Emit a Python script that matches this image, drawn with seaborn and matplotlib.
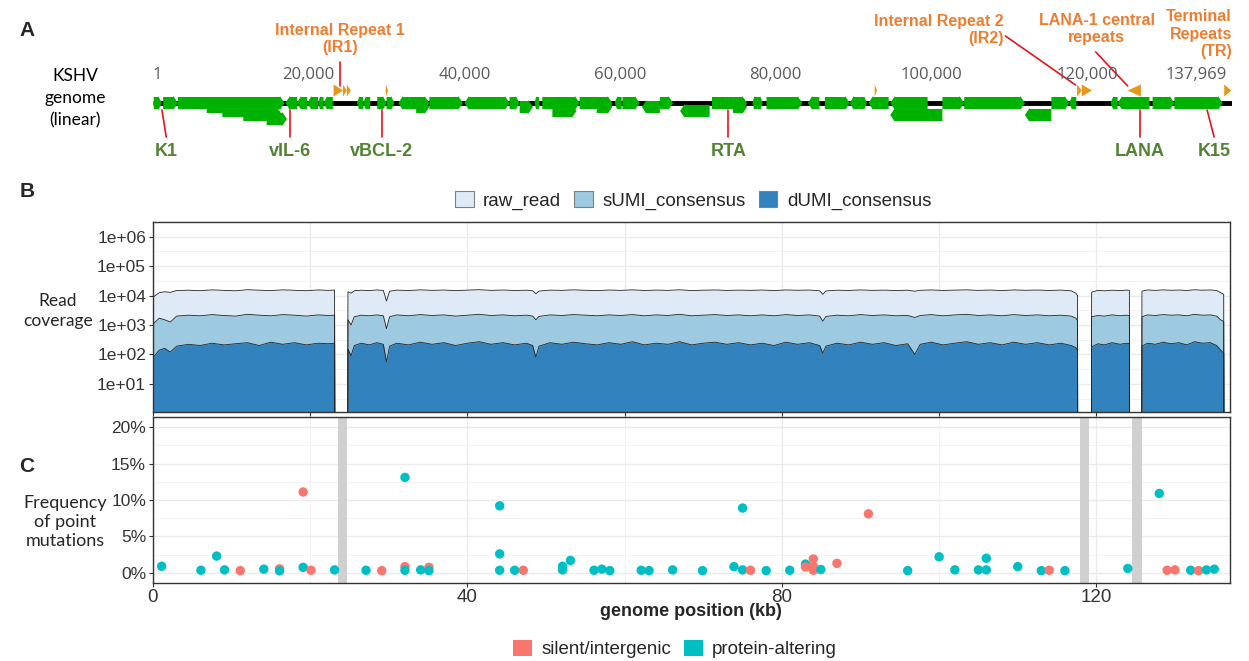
import numpy as np
import pandas as pd
import seaborn as sns
import matplotlib.pyplot as plt
from matplotlib import font_manager
from matplotlib.patches import Patch

# ---- data -------------------------------------------------------------
GENOME_LEN = 137.969  # kb

# coverage (reads) along the genome, kb positions; 1 = no coverage
cov_pos = [0.05, 0.8, 1.5, 2.2, 3.0, 4.5, 6.0, 7.5, 9.0, 10.5, 12.0, 13.5, 15.0, 16.5, 18.0, 19.5, 21.0, 22.3, 23.1, 23.12,
           24.78, 24.8, 25.2, 25.6, 26.5, 27.5, 28.5, 29.3, 29.7, 30.1, 31.0, 32.5, 34.0, 35.5, 37.0, 38.5, 40.0, 41.5,
           43.0, 44.5, 46.0, 47.5, 48.3, 48.7, 49.1, 50.5, 52.0, 53.5, 55.0, 56.5, 58.0, 59.5, 61.0, 62.5, 64.0, 65.5,
           67.0, 68.5, 70.0, 71.5, 73.0, 74.5, 76.0, 77.5, 79.0, 80.5, 82.0, 83.5, 84.8, 85.2, 85.6, 87.0, 88.5, 90.0,
           91.5, 93.0, 94.5, 96.0, 96.9, 97.6, 99.0, 100.5, 102.0, 103.5, 105.0, 106.5, 108.0, 109.5, 111.0, 112.5,
           114.0, 115.5, 116.8, 117.4, 117.6, 117.62,
           119.38, 119.4, 120.2, 121.0, 122.0, 123.0, 123.8, 124.2, 124.22,
           125.78, 125.8, 126.5, 127.5, 128.5, 129.5, 130.5, 131.5, 132.5, 133.5, 134.5, 135.3, 135.8, 136.2, 136.22]
cov_raw = [9000, 12500, 13500, 12800, 14800, 15200, 14600, 15600, 15000, 14500, 15800, 15200, 14800, 15600, 15100, 14600, 15500, 15000, 15300, 1,
           1, 13500, 12000, 14500, 15200, 14800, 15500, 14900, 6500, 14000, 15300, 14800, 15600, 15000, 15400, 14700, 15300, 15800,
           15000, 15400, 14900, 15200, 14600, 11500, 14200, 15300, 15000, 15600, 15100, 14700, 15400, 15000, 15600, 14900, 15300, 15000,
           15700, 14800, 15200, 15500, 14900, 15300, 15000, 15400, 14800, 15500, 15100, 15400, 14500, 11000, 14300, 15200, 14900, 15500,
           15000, 15300, 14800, 15200, 14000, 15100, 15500, 14900, 15300, 15600, 15000, 15400, 14800, 15500, 15100, 15400,
           14900, 15300, 14500, 12000, 10000, 1,
           1, 13000, 15000, 14500, 15200, 14700, 15300, 15000, 1,
           1, 14000, 15500, 15000, 15600, 15100, 15400, 14900, 15700, 15200, 15500, 14800, 12500, 11000, 1]
cov_sumi = [1100, 1700, 1500, 1250, 2000, 2150, 2050, 2250, 2100, 2000, 2300, 2150, 2050, 2250, 2150, 2000, 2200, 2100, 2150, 1,
            1, 1500, 1000, 1900, 2150, 2050, 2200, 2050, 750, 1900, 2200, 2050, 2250, 2100, 2200, 2000, 2150, 2300,
            2100, 2200, 2050, 2150, 2000, 1500, 1950, 2200, 2100, 2250, 2150, 2050, 2200, 2100, 2250, 2050, 2200, 2100,
            2300, 2050, 2150, 2250, 2100, 2200, 2050, 2200, 2050, 2250, 2100, 2200, 2000, 1350, 1950, 2150, 2050, 2250,
            2100, 2200, 2050, 2100, 1800, 2100, 2250, 2050, 2200, 2300, 2100, 2200, 2050, 2250, 2100, 2200,
            2050, 2150, 2000, 1700, 1400, 1,
            1, 1900, 2100, 2000, 2200, 2050, 2150, 2100, 1,
            1, 1900, 2200, 2100, 2250, 2150, 2200, 2050, 2300, 2150, 2200, 2000, 1500, 1300, 1]
cov_dumi = [80, 140, 160, 120, 190, 220, 200, 240, 210, 230, 250, 200, 260, 220, 250, 210, 240, 230, 240, 1,
            1, 150, 90, 200, 240, 210, 250, 220, 55, 190, 240, 210, 260, 220, 250, 200, 240, 270,
            220, 250, 210, 240, 200, 80, 190, 250, 220, 260, 230, 210, 250, 220, 270, 210, 240, 220,
            270, 210, 240, 260, 220, 250, 210, 240, 200, 260, 220, 250, 200, 110, 190, 240, 210, 260,
            220, 250, 200, 230, 100, 220, 260, 210, 240, 270, 220, 250, 210, 260, 220, 250,
            210, 240, 200, 170, 140, 1,
            1, 180, 230, 210, 250, 220, 240, 230, 1,
            1, 190, 240, 220, 260, 230, 250, 210, 270, 240, 250, 200, 140, 110, 1]
cov_names = ["raw_read", "sUMI_consensus", "dUMI_consensus"]
cov_colors = ["#DEEBF7", "#9ECAE1", "#3182BD"]

# regions without coverage (kb)
gap_start = [23.5, 117.9, 124.5]
gap_end = [24.65, 119.1, 125.8]

# point mutations: position (kb), frequency (%), class
mut_pos = [1.1, 6.1, 8.1, 9.1, 11.1, 14.1, 16.1, 16.1, 19.1, 19.1, 20.1, 23.1, 27.1, 29.1, 32.05, 32.05, 32.05,
           34.05, 35.1, 35.1, 44.1, 44.1, 44.1, 46.0, 47.1, 52.1, 52.1, 53.1, 56.1, 57.1, 58.1, 62.1, 63.1, 66.1,
           69.9, 73.9, 75.0, 75.0, 76.0, 78.0, 81.0, 83.0, 83.0, 84.0, 84.0, 84.0, 84.95, 87.0, 91.0, 96.0, 100.0,
           102.0, 105.0, 106.0, 106.0, 110.0, 113.0, 114.0, 116.0, 124.0, 128.0, 129.0, 130.0, 132.0, 133.0, 134.0, 135.0]
mut_freq = [0.9, 0.35, 2.3, 0.4, 0.3, 0.5, 0.55, 0.27, 11.1, 0.75, 0.35, 0.4, 0.35, 0.3, 13.1, 0.85, 0.35,
            0.4, 0.75, 0.3, 9.2, 2.6, 0.35, 0.35, 0.35, 0.9, 0.4, 1.7, 0.35, 0.5, 0.3, 0.35, 0.3, 0.4,
            0.3, 0.85, 8.9, 0.4, 0.35, 0.3, 0.35, 1.2, 0.8, 1.9, 0.9, 0.35, 0.45, 1.3, 8.1, 0.3, 2.2,
            0.4, 0.4, 2.0, 0.4, 0.85, 0.3, 0.35, 0.3, 0.6, 10.9, 0.35, 0.4, 0.35, 0.3, 0.4, 0.5]
mut_type = list("PPPPSPSPSPSPPSPSP"
                "PSPPPPPSPPPPPPPPP"
                "PPPPSPPPSSSSPSSPP"
                "PPPPPPSPPPSSPSPP")
mut_labels = {"S": "silent/intergenic", "P": "protein-altering"}
mut_colors = {"silent/intergenic": "#F8766D", "protein-altering": "#00BFC4"}

# genome map: genes (start kb, end kb, strand, row)
genes = [(0.1, 1.1, "+", 0), (1.3, 3.2, "+", 0), (3.2, 16.9, "+", 0),
         (6.9, 11.6, "+", 1), (8.9, 14.6, "+", 2), (11.6, 16.6, "+", 3), (14.6, 17.2, "+", 4),
         (17.0, 18.5, "-", 0), (18.5, 19.8, "-", 0), (19.8, 21.2, "-", 0), (21.2, 21.9, "-", 0), (21.9, 23.1, "-", 0),
         (26.2, 27.0, "-", 0), (27.0, 27.9, "-", 0), (28.8, 30.0, "+", 0), (30.0, 31.0, "+", 0), (31.5, 33.0, "-", 0),
         (33.0, 35.5, "+", 0), (33.8, 35.5, "+", 1), (35.5, 39.8, "+", 0), (40.0, 42.9, "-", 0), (42.9, 45.8, "+", 0),
         (45.8, 47.1, "+", 0), (47.1, 48.8, "+", 1), (49.0, 49.6, "-", 0), (50.0, 54.8, "+", 0), (51.3, 54.4, "+", 2),
         (54.8, 59.0, "+", 0), (57.0, 59.0, "+", 1), (59.3, 60.2, "-", 0), (60.3, 62.5, "+", 0), (62.8, 65.1, "-", 1),
         (65.1, 66.8, "+", 0), (67.7, 71.5, "-", 2), (71.8, 76.3, "+", 0), (74.5, 76.3, "+", 1), (77.0, 77.6, "-", 0),
         (77.6, 78.3, "+", 0), (78.8, 83.4, "+", 0), (84.1, 85.6, "-", 0), (86.3, 89.5, "+", 0), (89.5, 90.8, "-", 0),
         (90.8, 91.7, "+", 0), (91.9, 94.5, "-", 0), (94.7, 99.5, "-", 0), (94.7, 101.4, "-", 3), (101.4, 104.2, "+", 0),
         (104.2, 112.0, "+", 0), (112.0, 115.4, "-", 3), (115.4, 117.7, "+", 0), (117.7, 118.6, "-", 0),
         (123.0, 123.9, "-", 0), (123.9, 128.0, "-", 0), (128.4, 131.2, "+", 0), (131.2, 137.4, "+", 0)]
# repeat elements (start kb, end kb, direction)
repeats = [(23.2, 24.4, "+"), (24.4, 24.9, "+"), (24.9, 25.4, "+"), (29.9, 30.2, "+"), (92.7, 93.0, "+"),
           (118.7, 119.3, "+"), (119.3, 120.6, "+"), (125.2, 126.9, "-"), (137.6, 138.5, "+")]
map_ticks = [1, 20000, 40000, 60000, 80000, 100000, 120000, 137969]
gene_labels = [("K1", 1.15, 1.7), ("vIL-6", 17.6, 17.6), ("vBCL-2", 29.4, 29.4), ("RTA", 73.9, 73.9),
               ("LANA", 126.8, 126.8), ("K15", 135.4, 136.3)]

# ---- style ------------------------------------------------------------
W, H = 1249, 661
sns.set_theme(style="white")
plt.rcParams["font.family"] = ["Liberation Sans", "DejaVu Sans"]
names = {f.name for f in font_manager.fontManager.ttflist}
NARROW = "Liberation Sans Narrow" if "Liberation Sans Narrow" in names else "Liberation Sans"
SOFT = "Lato" if "Lato" in names else "DejaVu Sans"
GREEN, ORANGE, RED = "#00B200", "#E6961A", "#E8141B"
ORANGE_TXT, GREEN_TXT = "#ED7D31", "#548235"
TXT = "#333333"


def fx(px):
    return px / W


def fy(py):
    return 1 - py / H


fig = plt.figure(figsize=(W / 100, H / 100), dpi=100)

# ---- panel A: genome map ----------------------------------------------
ax_a = fig.add_axes([fx(153), fy(170), fx(1232) - fx(153), fy(0) - fy(170)])
ax_a.set_xlim(0, 138.6)
ax_a.set_ylim(170, 0)
ax_a.axis("off")

ax_a.plot([0, GENOME_LEN + 0.6], [103, 103], color="black", lw=3.5, solid_capstyle="butt", zorder=1)
for s, e, strand, row in genes:
    yc = 103 + row * 4.0
    hl = min(0.6, 0.4 * (e - s))
    if strand == "+":
        xs = [s, e - hl, e - hl, e, e - hl, e - hl, s]
    else:
        xs = [e, s + hl, s + hl, s, s + hl, s + hl, e]
    ys = [yc - 6, yc - 6, yc - 7, yc, yc + 7, yc + 6, yc + 6]
    ax_a.fill(xs, ys, color=GREEN, lw=0, zorder=2)
for s, e, d in repeats:
    tip, base = (e, s) if d == "+" else (s, e)
    ax_a.fill([base, tip, base], [84.5, 90.5, 96.5], color=ORANGE, lw=0, zorder=2)

for t in map_ticks:
    ha = "left" if t == map_ticks[0] else ("right" if t == map_ticks[-1] else "center")
    ax_a.text(t / 1000, 75, f"{t:,}", ha=ha, va="center", fontsize=12, color="#595959",
              family=["Open Sans", "DejaVu Sans"])

for name, k0, k1 in gene_labels:
    ax_a.plot([k0, k1], [110, 137], color=RED, lw=1.2, zorder=3)
    ax_a.text(k1, 151, name, ha="center", va="center", fontsize=13, fontweight="bold",
              color=GREEN_TXT, family=NARROW)

lab = dict(fontsize=11.5, fontweight="bold", color=ORANGE_TXT, family=NARROW, va="center", linespacing=1.2)
ax_a.text(24.0, 39, "Internal Repeat 1\n(IR1)", ha="center", **lab)
ax_a.plot([24.0, 24.0], [62, 86], color=RED, lw=1.2)
ax_a.text(109.3, 30, "Internal Repeat 2\n(IR2)", ha="right", multialignment="right", **lab)
ax_a.plot([109.5, 118.5], [36, 85], color=RED, lw=1.2)
ax_a.text(121.2, 29, "LANA-1 central\nrepeats", ha="center", **lab)
ax_a.plot([121.1, 125.2], [52, 86], color=RED, lw=1.2)
ax_a.text(138.6, 34, "Terminal\nRepeats\n(TR)", ha="right", multialignment="right", **lab)

fig.text(fx(75), fy(98), "KSHV\ngenome\n(linear)", ha="center", va="center", fontsize=12.5,
         family=SOFT, color="black", linespacing=1.45)

# ---- panel B: coverage ------------------------------------------------
ax_b = fig.add_axes([fx(153), fy(412), fx(1230) - fx(153), fy(222) - fy(412)])
ax_b.set_yscale("log")
cov = pd.DataFrame({"pos": cov_pos, "raw_read": cov_raw, "sUMI_consensus": cov_sumi,
                    "dUMI_consensus": cov_dumi})
for name, col in zip(cov_names, cov_colors):
    ax_b.fill_between(cov["pos"], 1, cov[name], color=col, lw=0, zorder=2)
    sns.lineplot(data=cov, x="pos", y=name, ax=ax_b, color="#222222", lw=0.6, estimator=None, zorder=3)
ax_b.set_xlim(0, 137)
ax_b.set_ylim(1.1, 2.1e6)
dec = [1e1, 1e2, 1e3, 1e4, 1e5, 1e6]
ax_b.set_yticks(dec)
ax_b.set_yticklabels(["1e+01", "1e+02", "1e+03", "1e+04", "1e+05", "1e+06"])
ax_b.set_yticks([10 ** (k + 0.5) for k in range(0, 7)], minor=True)
ax_b.set_xticks(range(0, 140, 20))
ax_b.set_xticklabels([])
ax_b.grid(which="major", color="#EBEBEB", lw=1.0, zorder=0)
ax_b.grid(which="minor", axis="y", color="#F3F3F3", lw=0.7, zorder=0)
ax_b.set_xlabel("")
ax_b.set_ylabel("")
ax_b.tick_params(axis="both", which="major", length=3, width=0.8, color=TXT, labelsize=12.5,
                 labelcolor=TXT, left=True, bottom=True, pad=2)
ax_b.tick_params(which="minor", length=0)
ax_b.set_axisbelow(True)

fig.text(fx(58), fy(311), "Read\ncoverage", ha="center", va="center", fontsize=12.5, family=SOFT,
         linespacing=1.3)
handles = [Patch(facecolor=c, edgecolor="#7F7F7F", lw=0.8, label=n) for n, c in zip(cov_names, cov_colors)]
fig.legend(handles=handles, loc="center", bbox_to_anchor=(fx(693), fy(200)), ncol=3, frameon=False,
           fontsize=13.5, handlelength=1.0, handleheight=1.0, handletextpad=0.5, columnspacing=0.7)

# ---- panel C: mutation frequencies ------------------------------------
ax_c = fig.add_axes([fx(153), fy(583), fx(1230) - fx(153), fy(417) - fy(583)])
muts = pd.DataFrame({"pos": mut_pos, "freq": mut_freq, "type": [mut_labels[t] for t in mut_type]})
for g0, g1 in zip(gap_start, gap_end):
    ax_c.axvspan(g0, g1, color="#D0D0D0", lw=0, zorder=1)
sns.scatterplot(data=muts, x="pos", y="freq", hue="type", palette=mut_colors, s=46, edgecolor="none",
                legend=False, ax=ax_c, zorder=3)
ax_c.set_xlim(0, 137)
ax_c.set_ylim(-1.4, 21.4)
ax_c.set_yticks([0, 5, 10, 15, 20])
ax_c.set_yticklabels(["0%", "5%", "10%", "15%", "20%"])
ax_c.set_yticks([2.5, 7.5, 12.5, 17.5], minor=True)
ax_c.set_xticks([0, 40, 80, 120])
ax_c.set_xticks([20, 60, 100], minor=True)
ax_c.grid(which="major", color="#EBEBEB", lw=1.0, zorder=0)
ax_c.grid(which="minor", color="#F3F3F3", lw=0.7, zorder=0)
ax_c.set_ylabel("")
ax_c.set_xlabel("")
ax_c.tick_params(axis="both", which="major", length=3, width=0.8, color=TXT, labelcolor=TXT,
                 left=True, bottom=True, pad=2)
ax_c.tick_params(axis="y", labelsize=12.5)
ax_c.tick_params(axis="x", labelsize=13.5, pad=1)
ax_c.tick_params(which="minor", length=0)
ax_c.set_axisbelow(True)
fig.text(fx(691), fy(612), "genome position (kb)", ha="center", va="center", fontsize=13, fontweight="bold")

fig.text(fx(65), fy(522), "Frequency\nof point\nmutations", ha="center", va="center", fontsize=13,
         family=SOFT, linespacing=1.25)
handles = [Patch(facecolor=c, edgecolor="none", label=n) for n, c in mut_colors.items()]
fig.legend(handles=handles, loc="center", bbox_to_anchor=(fx(675), fy(649)), ncol=2, frameon=False,
           fontsize=13.5, handlelength=1.0, handleheight=1.0, handletextpad=0.5, columnspacing=0.7)

for ax in (ax_b, ax_c):
    for sp in ax.spines.values():
        sp.set_color(TXT)
        sp.set_linewidth(1.0)

# panel letters
for letter, py in (("A", 30), ("B", 192), ("C", 466)):
    fig.text(fx(27), fy(py), letter, ha="center", va="center", fontsize=15, fontweight="bold")

fig.savefig("out.png", dpi=100)
